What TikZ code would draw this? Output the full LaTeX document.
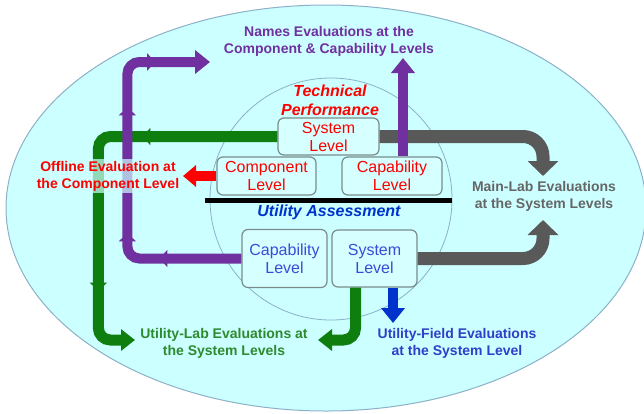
\documentclass[tikz,border=0pt]{standalone}
\usepackage{fontspec}
\setmainfont{Liberation Sans}
\usepackage{tikz}
\usetikzlibrary{arrows.meta, decorations.markings, positioning, calc}

\definecolor{bgcyan}{HTML}{CCFFFF}
\definecolor{rimblue}{HTML}{8CB0C8}
\definecolor{boxfill}{HTML}{D6FFFF}
\definecolor{boxrim}{HTML}{7A8C8C}
\definecolor{purp}{HTML}{7030A0}
\definecolor{grn}{HTML}{0E7E0E}
\definecolor{grntext}{HTML}{2E8A2E}
\definecolor{gry}{HTML}{595959}
\definecolor{grytext}{HTML}{666666}
\definecolor{blu}{HTML}{0033CC}
\definecolor{blutext}{HTML}{2F3FC8}
\definecolor{lvlblue}{HTML}{3B4BD8}

\tikzset{
  lvlbox/.style={draw=boxrim, fill=boxfill, rounded corners=6pt, line width=1.2pt,
    align=center, inner sep=0pt, font=\fontsize{16}{18}\selectfont},
  evallabel/.style={align=center, font=\bfseries\fontsize{14}{17}\selectfont},
  heading/.style={align=center, font=\bfseries\itshape\fontsize{16}{19}\selectfont},
  fatarrow/.style={line width=#1, rounded corners=12pt},
}

\begin{document}
\begin{tikzpicture}[x=1pt, y=-1pt]
    \useasboundingbox (0,0) rectangle (644,413);

    % Outer ellipse and inner circle
    \draw[rimblue, fill=bgcyan, line width=1pt] (326,208) ellipse [x radius=320pt, y radius=203pt];
    \draw[rimblue, line width=0.8pt] (331,199) circle [radius=121pt];

    % Headings and divider
    \node[heading, text=red] (techperf) at (330,100) {Technical\\Performance};
    \draw[line width=5pt] (205,200) -- (452,200);
    \node[heading, text=blu] (utilass) at (329,212) {Utility Assessment};

    % Level boxes
    \node[lvlbox, text=red, minimum width=101pt, minimum height=37pt] (sysT) at (328.5,136.5) {System\\Level};
    \node[lvlbox, text=red, minimum width=99pt, minimum height=38pt] (compT) at (266.5,176) {Component\\Level};
    \node[lvlbox, text=red, minimum width=100pt, minimum height=38pt] (capT) at (392,176) {Capability\\Level};
    \node[lvlbox, text=lvlblue, minimum width=85pt, minimum height=58pt] (capB) at (284.5,258.5) {Capability\\Level};
    \node[lvlbox, text=lvlblue, minimum width=85pt, minimum height=57pt] (sysB) at (374.5,258.5) {System\\Level};

    % Arrow ends
    \coordinate (mainTipA) at (543,176);
    \coordinate (mainTipB) at (543,220);
    \coordinate (labTipA) at (135,340);
    \coordinate (labTipB) at (318,340);
    \coordinate (namesTipA) at (210,62);
    \coordinate (namesTipB) at (403,58);
    \coordinate (fieldTip) at (393,323);
    \coordinate (offTip) at (183,176);

    % Grey arrows
    \draw[gry, fatarrow=13pt, rounded corners=20pt, -{Triangle[width=30pt,length=15pt]}] (sysT.east) -| (mainTipA);
    \draw[gry, fatarrow=13pt, rounded corners=20pt, -{Triangle[width=30pt,length=15pt]}] (sysB.east) -| (mainTipB);

    % Green arrows
    \draw[grn, fatarrow=11pt, -{Triangle[width=21pt,length=14pt]}, postaction={decorate},
      decoration={markings,
        mark=at position 135pt with {\arrow{Triangle[width=17pt,length=8pt]}},
        mark=at position 328pt with {\arrow{Triangle[width=17pt,length=8pt]}}}]
      (sysT.west) -- ++(-179,0) |- (labTipA);
    \draw[grn, fatarrow=11pt, -{Triangle[width=21pt,length=14pt]}] ([xshift=-19pt]sysB.south) |- (labTipB);

    % Purple arrows
    \draw[purp, fatarrow=10pt, -{Triangle[width=23pt,length=15pt]}, postaction={decorate},
      decoration={markings,
        mark=at position 82pt with {\arrow{Triangle[width=17pt,length=8pt]}},
        mark=at position 134pt with {\arrow{Triangle[width=17pt,length=8pt]}},
        mark=at position 260pt with {\arrow{Triangle[width=17pt,length=8pt]}},
        mark=at position 328pt with {\arrow{Triangle[width=17pt,length=8pt]}}}]
      (capB.west) -- ++(-114,0) |- (namesTipA);
    \draw[purp, fatarrow=10pt, -{Triangle[width=23pt,length=15pt]}] (namesTipB |- capT.north) -- (namesTipB);

    % Red and blue arrows
    \draw[red, fatarrow=10pt, -{Triangle[width=21pt,length=13pt]}] (compT.west) -- (offTip);
    \draw[blu, fatarrow=10pt, -{Triangle[width=23pt,length=15pt]}] (fieldTip |- sysB.south) -- (fieldTip);

    % Evaluation labels
    \node[evallabel, text=purp] (names) at (329,41) {Names Evaluations at the\\Component \& Capability Levels};
    \node[evallabel, text=red, fill=bgcyan, fill opacity=0.7, text opacity=1, inner sep=2pt] (offline) at (108,176) {Offline Evaluation at\\the Component Level};
    \node[evallabel, text=grytext] (mainlab) at (544,196) {Main-Lab Evaluations\\at the System Levels};
    \node[evallabel, text=grntext] (utillab) at (224,343) {Utility-Lab Evaluations at\\the System Levels};
    \node[evallabel, text=blutext] (utilfield) at (457,343) {Utility-Field Evaluations\\at the System Level};
\end{tikzpicture}
\end{document}
